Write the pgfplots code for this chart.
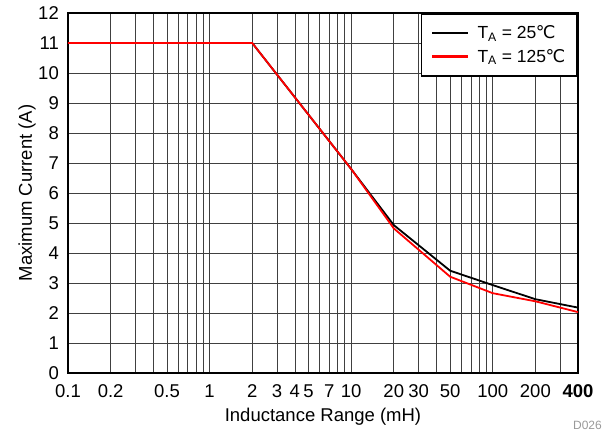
\documentclass[border=0pt]{standalone}
\usepackage{pgfplots}
\pgfplotsset{compat=1.18}
\usepackage{fontspec}
\setmainfont{Liberation Sans}
\newfontfamily\dejavu{DejaVu Sans}
\newcommand{\degC}{\kern-0.5pt{\dejavu ℃}}
\begin{document}
\begin{tikzpicture}
\begin{axis}[
  scale only axis,
  width=510pt, height=360pt,
  xmode=log, log basis x=10,
  xmin=0.1, xmax=400, ymin=0, ymax=12,
  xtick={0.1,0.2,0.3,0.4,0.5,0.6,0.7,0.8,0.9,1,2,3,4,5,6,7,8,9,10,20,30,40,50,60,70,80,90,100,200,300,400},
  xticklabels={0.1,0.2,,,0.5,,,,,1,2,3,4,5,,7,,,10,20,30,,50,,,,,100,200,,\textbf{400}},
  ytick={0,1,...,12},
  /pgf/number format/assume math mode=true,
  grid=major,
  major grid style={black!75, line width=0.6pt},
  major tick length=0pt,
  axis line style={line width=1.8pt},
  tick label style={font=\fontsize{18.5}{20}\selectfont},
  xticklabel style={inner sep=1pt, text height=13.5pt, text depth=0pt, yshift=-10pt},
  yticklabel style={inner sep=1pt, xshift=-8pt},
  label style={font=\fontsize{18.5}{20}\selectfont},
  xlabel={Inductance Range (mH)},
  ylabel={Maximum Current (A)},
  xlabel style={yshift=-6pt},
  ylabel style={yshift=-2pt},
  legend style={at={(1,1)}, anchor=north east, draw=black, line width=1.6pt,
    font=\fontsize{17.5}{19}\selectfont, inner xsep=10pt, inner ysep=10pt,
    row sep=5pt, column sep=8pt},
  legend image code/.code={\fill[#1] (0pt,-1.2pt) rectangle (36pt,1.2pt);},
  legend cell align=left,
]
\addlegendimage{fill=black, draw=none}
\addlegendentry{T\textsubscript{A} = 25\degC}
\addlegendimage{fill=red, draw=none}
\addlegendentry{T\textsubscript{A} = 125\degC}
\addplot[black, line width=1.8pt, forget plot] coordinates {
 (0.1,11) (2,11) (10,6.8) (20,4.93) (50,3.41) (100,2.93) (200,2.46) (400,2.18)};
\addplot[red, line width=1.8pt, forget plot] coordinates {
 (0.1,11) (2,11) (10,6.8) (20,4.82) (50,3.21) (100,2.66) (200,2.39) (400,2.03)};
\end{axis}
\node[anchor=south east, inner sep=0pt, text=black!40, font=\fontsize{12}{13}\selectfont] at ([shift={(24pt,-57pt)}]current axis.south east) {D026};
\pgfresetboundingbox
\path ([shift={(-68pt,-59pt)}]current axis.south west) rectangle ([shift={(27pt,13pt)}]current axis.north east);
\end{tikzpicture}
\end{document}
